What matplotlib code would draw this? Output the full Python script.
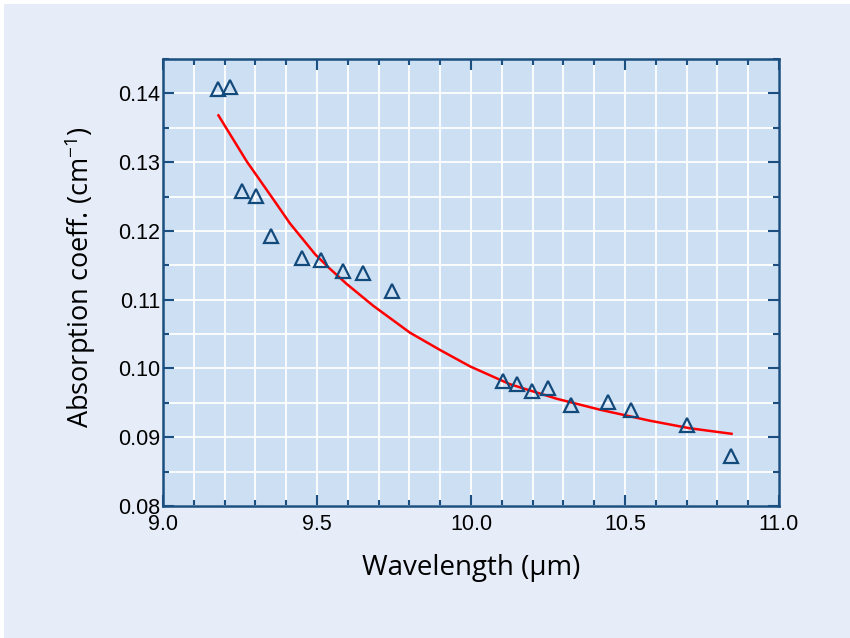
import matplotlib.pyplot as plt
from matplotlib.patches import Rectangle
from matplotlib.ticker import MultipleLocator

plt.rcParams['mathtext.fontset'] = 'custom'
plt.rcParams['mathtext.rm'] = 'Open Sans'

# measured points
wavelength = [9.180, 9.218, 9.255, 9.301, 9.350, 9.452, 9.513, 9.583, 9.650, 9.745,
              10.105, 10.148, 10.197, 10.249, 10.324, 10.446, 10.518, 10.702, 10.844]
absorption = [0.1407, 0.1409, 0.1258, 0.1251, 0.1192, 0.1160, 0.1157, 0.1142, 0.1139, 0.1113,
              0.0982, 0.0977, 0.0967, 0.0971, 0.0947, 0.0951, 0.0939, 0.0918, 0.0873]

# fitted curve
fit_x = [9.180, 9.272, 9.369, 9.412, 9.494, 9.542, 9.596, 9.683, 9.802, 9.899,
         9.997, 10.127, 10.278, 10.419, 10.581, 10.711, 10.846]
fit_y = [0.1368, 0.1301, 0.1239, 0.1211, 0.1166, 0.1145, 0.1123, 0.1091, 0.1052, 0.1027,
         0.1003, 0.0977, 0.0956, 0.0940, 0.0924, 0.0913, 0.0905]

x_ticks = [9.0, 9.5, 10.0, 10.5, 11.0]
y_ticks = [0.08, 0.09, 0.10, 0.11, 0.12, 0.13, 0.14]

spine_col = '#1b4f80'
panel_col = '#e6edf8'
face_col = '#cddff2'

fig = plt.figure(figsize=(8.5, 6.38), dpi=100)
fig.patch.set_facecolor('white')
fig.patches.append(Rectangle((4 / 850, 0), 1, 1 - 4 / 638, transform=fig.transFigure,
                             facecolor=panel_col, edgecolor='none', zorder=-10))

ax = fig.add_axes([163 / 850, 1 - 506 / 638, (779 - 163) / 850, (506 - 59) / 638])
ax.set_facecolor(face_col)

ax.plot(fit_x, fit_y, color='#ff0000', lw=1.8, zorder=3)
ax.plot(wavelength, absorption, ls='none', marker='^', ms=10.5, mfc='none',
        mec='#124a7c', mew=1.6, zorder=4)

ax.set_xlim(9.0, 11.0)
ax.set_ylim(0.08, 0.145)
ax.set_xticks(x_ticks)
ax.set_xticklabels([f'{v:.1f}' for v in x_ticks])
ax.set_yticks(y_ticks)
ax.set_yticklabels([f'{v:.2f}' for v in y_ticks])
ax.xaxis.set_minor_locator(MultipleLocator(0.1))
ax.yaxis.set_minor_locator(MultipleLocator(0.005))

ax.grid(which='both', color='white', lw=1.3)
ax.set_axisbelow(True)

for s in ax.spines.values():
    s.set_color(spine_col)
    s.set_linewidth(1.8)

ax.tick_params(which='both', direction='in', top=True, right=True, color=spine_col,
               width=1.5, labelsize=15.5, labelcolor='black')
ax.tick_params(axis='x', which='both', pad=6)
ax.tick_params(axis='y', which='both', pad=2)
ax.tick_params(which='major', length=8)
ax.tick_params(which='minor', length=4)
for lab in ax.get_xticklabels() + ax.get_yticklabels():
    lab.set_fontfamily('Liberation Sans')

ax.set_xlabel('Wavelength (µm)', fontsize=20, family='Open Sans')
ax.set_ylabel(r'Absorption coeff. (cm$\mathregular{^{-1}}$)', fontsize=19.5, family='Open Sans')
ax.xaxis.set_label_coords(0.5, -0.139)
ax.xaxis.label.set_va('center')
ax.yaxis.set_label_coords(-0.1347, 0.512)
ax.yaxis.label.set_va('center')

plt.savefig('out.png', dpi=100, facecolor=fig.get_facecolor())
